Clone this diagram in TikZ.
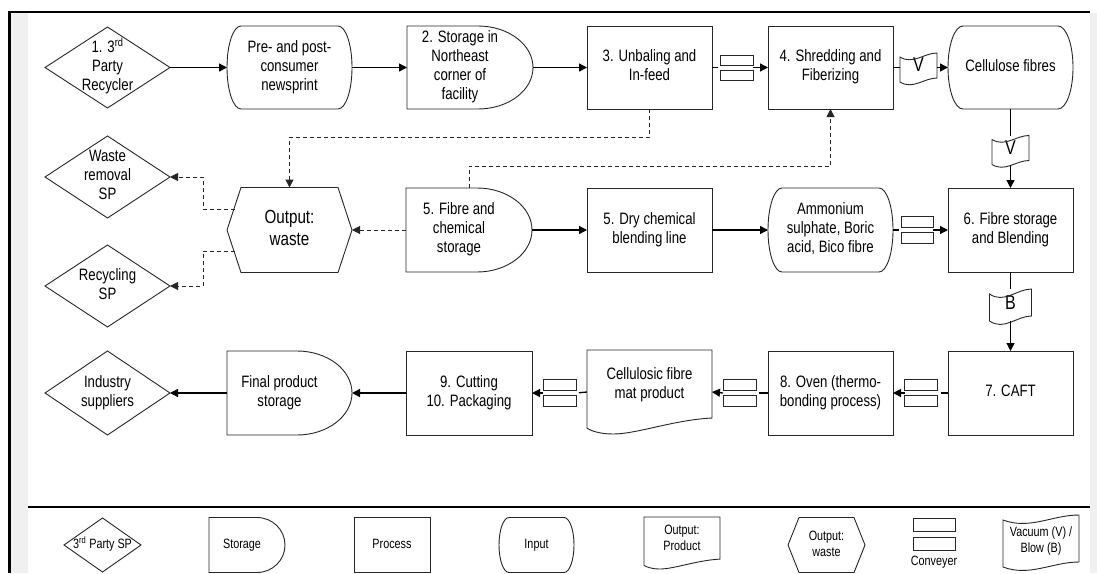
\documentclass[tikz,border=0pt]{standalone}
\usepackage{fontspec}
\setmainfont{Liberation Sans}[FakeStretch=0.8]
\usetikzlibrary{arrows.meta}
\newcommand\Ql[1]{\begin{tabular}{@{}c@{}}#1\end{tabular}}
\def\Qfont{\fontsize{16.5}{19}\selectfont}
\newcommand\Qbox[4]{%
 \pgfmathsetmacro\Qxl{#1-#3/2}\pgfmathsetmacro\Qxr{#1+#3/2}%
 \pgfmathsetmacro\Qyt{#2-#4/2}\pgfmathsetmacro\Qyb{#2+#4/2}}
% storage: name cx cy w h a hspace text
\newcommand\QD[8]{%
 \node[txt,minimum width=#4pt,minimum height=#5pt] (#1) at (#2,#3) {\Ql{#8}\hspace*{#7pt}};
 \Qbox{#2}{#3}{#4}{#5}%
 \pgfmathsetmacro\Qxs{\Qxr-#6}\pgfmathsetmacro\Qxc{\Qxs+0.5523*#6}\pgfmathsetmacro\Qkh{0.5523*#5/2}%
 \draw[outl] (\Qxs,\Qyt) -- (\Qxl,\Qyt) -- (\Qxl,\Qyb) -- (\Qxs,\Qyb) .. controls (\Qxc,\Qyb) and (\Qxr,#3+\Qkh) .. (\Qxr,#3) .. controls (\Qxr,#3-\Qkh) and (\Qxc,\Qyt) .. (\Qxs,\Qyt) -- cycle;}
% input: name cx cy w h d text
\newcommand\QI[7]{%
 \node[txt,minimum width=#4pt,minimum height=#5pt] (#1) at (#2,#3) {\Ql{#7}};
 \Qbox{#2}{#3}{#4}{#5}%
 \pgfmathsetmacro\Qkd{0.5523*#6}\pgfmathsetmacro\Qkh{0.5523*#5/2}%
 \draw[outl] (\Qxl+#6,\Qyt) -- (\Qxr-#6,\Qyt) .. controls (\Qxr-#6+\Qkd,\Qyt) and (\Qxr,#3-\Qkh) .. (\Qxr,#3) .. controls (\Qxr,#3+\Qkh) and (\Qxr-#6+\Qkd,\Qyb) .. (\Qxr-#6,\Qyb) -- (\Qxl+#6,\Qyb) .. controls (\Qxl+#6-\Qkd,\Qyb) and (\Qxl,#3+\Qkh) .. (\Qxl,#3) .. controls (\Qxl,#3-\Qkh) and (\Qxl+#6-\Qkd,\Qyt) .. (\Qxl+#6,\Qyt) -- cycle;}
% rhombus: name cx cy w h text
\newcommand\QR[6]{%
 \node[txt,minimum width=#4pt,minimum height=#5pt] (#1) at (#2,#3) {\Ql{#6}};
 \draw[outl] (#1.west) -- (#1.north) -- (#1.east) -- (#1.south) -- cycle;}
% hexagon: name cx cy w h d text
\newcommand\QH[7]{%
 \node[txt,minimum width=#4pt,minimum height=#5pt] (#1) at (#2,#3) {\Ql{#7}};
 \draw[outl] ([xshift=#6pt]#1.north west) -- ([xshift=-#6pt]#1.north east) -- (#1.east) -- ([xshift=-#6pt]#1.south east) -- ([xshift=#6pt]#1.south west) -- (#1.west) -- cycle;}
% document: name cx cy w h raise text
\newcommand\QP[7]{%
 \node[txt,minimum width=#4pt,minimum height=#5pt] (#1) at (#2,#3) {\raisebox{#6pt}[\height][\depth]{\Ql{#7}}};
 \Qbox{#2}{#3}{#4}{#5}%
 \draw[outl] (\Qxl,\Qyt) -- (\Qxr,\Qyt) -- (\Qxr,\Qyt+0.81*#5) .. controls (\Qxl+0.7*#4,\Qyt+0.83*#5) and (\Qxl+0.4*#4,\Qyb) .. (\Qxl+0.21*#4,\Qyb) .. controls (\Qxl+0.1*#4,\Qyb) and (\Qxl+0.03*#4,\Qyt+0.96*#5) .. (\Qxl,\Qyt+0.93*#5) -- cycle;}
% tape: name cx cy w h off text
\newcommand\QT[7]{%
 \pgfmathsetmacro\Qht{#5+#6}%
 \node[txt,minimum width=#4pt,minimum height=\Qht pt] (#1) at (#2,#3) {\Ql{#7}};
 \Qbox{#2}{#3}{#4}{\Qht}%
 \pgfmathsetmacro\QyL{\Qyt+#6}%
 \draw[outl] (\Qxl,\QyL) .. controls (\Qxl+0.35*#4,\QyL+2*#6) and (\Qxl+0.65*#4,\Qyt) .. (\Qxr,\Qyt) -- (\Qxr,\Qyt+#5) .. controls (\Qxl+0.65*#4,\Qyt+#5) and (\Qxl+0.35*#4,\QyL+#5+2*#6) .. (\Qxl,\QyL+#5) -- cycle;}
% conveyor: name cx cy w rh gap
\newcommand\QC[6]{%
 \pgfmathsetmacro\Qch{2*#5+#6}%
 \node[minimum width=#4pt,minimum height=\Qch pt,inner sep=0pt,outer sep=0pt] (#1) at (#2,#3) {};
 \draw[outl] (#2-#4/2,#3-#6/2-#5) rectangle (#2+#4/2,#3-#6/2);
 \draw[outl] (#2-#4/2,#3+#6/2) rectangle (#2+#4/2,#3+#6/2+#5);}
\begin{document}
\begin{tikzpicture}[x=1pt,y=-1pt,
  outl/.style={draw=black!85,line width=0.9pt},
  txt/.style={inner sep=0pt,outer sep=0pt,font=\Qfont},
  proc/.style={txt,outl,minimum width=125pt,minimum height=83pt},
  conn/.style={line width=1.3pt,draw=black},
  arr/.style={conn,-{Triangle[length=8pt,width=8pt]}},
  darr/.style={line width=1pt,draw=black!85,dash pattern=on 4pt off 3pt,-{Triangle[length=8pt,width=8pt]}}]
\useasboundingbox (0,0) rectangle (1097,573);
\fill[white] (0,0) rectangle (1097,573);
% frame
\fill[black!6] (11,12.5) rectangle (28,573);
\fill[black!6] (1090,12.5) rectangle (1097,573);
\draw[line width=1.6pt] (8,11.8) -- (1090,11.8);
\draw[line width=2.8pt] (9.6,10.8) -- (9.6,573);
\draw[line width=1.1pt] (28,507) -- (1090,507);

% ---------- row 1
\QR{d1}{107.5}{67.5}{125}{81}{1. 3\textsuperscript{rd}\\Party\\Recycler}
\QI{in1}{289.5}{67.5}{125}{83}{14}{Pre- and post-\\consumer\\newsprint}
\QD{st2}{470}{67.5}{126}{83}{55}{20}{2. Storage in\\Northeast\\corner of\\facility}
\node[proc] (p3) at (649.5,67.5) {\Ql{3. Unbaling and\\In-feed}};
\QC{cv1}{736.5}{67.5}{33}{10}{5}
\node[proc] (p4) at (830.5,67.5) {\Ql{4. Shredding and\\Fiberizing}};
{\def\Qfont{\fontsize{20}{22}\selectfont}\QT{tV1}{918.5}{67.5}{37}{25}{4}{V}}
\QI{in2}{1010.5}{67.5}{125}{83}{15}{Cellulose fibres}
{\def\Qfont{\fontsize{20}{22}\selectfont}\QT{tV2}{1010.5}{150}{37}{25}{4}{V}}

% ---------- row 2
\QR{dW}{107.5}{177}{125}{82}{Waste\\removal\\SP}
\QR{dR}{107.5}{286}{125}{82}{Recycling\\SP}
{\def\Qfont{\fontsize{19}{22}\selectfont}\QH{hx}{289.5}{230}{125}{85}{14}{Output:\\waste}}
\QD{st5}{469}{230}{126}{84}{55}{20}{5. Fibre and\\chemical\\storage}
\node[proc,minimum height=84pt] (p5) at (649.5,230) {\Ql{5. Dry chemical\\blending line}};
\QI{in3}{830.5}{230}{125}{84}{14}{Ammonium\\sulphate, Boric\\acid, Bico fibre}
\QC{cv2}{917}{230}{32}{11}{5}
\node[proc,minimum height=84pt] (p6) at (1010.5,230) {\Ql{6. Fibre storage\\and Blending}};
{\def\Qfont{\fontsize{20}{22}\selectfont}\QT{tB}{1010.5}{305}{42}{27}{5}{B}}

% ---------- row 3
\QR{dI}{107.5}{393}{125}{84}{Industry\\suppliers}
\QD{st9}{289.5}{393}{125}{84}{55}{20}{Final product\\storage}
\node[proc,minimum width=126pt,minimum height=84pt] (p9) at (469,393) {\Ql{9. Cutting\\10. Packaging}};
\QC{cv3}{559.5}{393}{33}{11}{5}
\QP{doc}{649.5}{392}{125}{84}{7}{Cellulosic fibre\\mat product}
\QC{cv4}{739.5}{393}{33}{11}{5}
\node[proc,minimum height=84pt] (p8) at (830.5,393) {\Ql{8. Oven (thermo-\\bonding process)}};
\QC{cv5}{921}{393}{33}{11}{5}
\node[proc,minimum height=84pt] (p7) at (1010.5,393) {\Ql{7. CAFT}};

% ---------- solid connectors
\draw[arr] (d1.east) -- (in1.west);
\draw[arr] (in1.east) -- (st2.west);
\draw[arr] (st2.east) -- (p3.west);
\draw[conn,shorten >=2pt] (p3.east) -- (cv1.west);
\draw[arr] (cv1.east) -- (p4.west);
\draw[conn] (p4.east) -- (tV1.west);
\draw[arr] (tV1.east) -- (in2.west);
\draw[conn] (in2.south) -- (tV2.north);
\draw[arr] (tV2.south) -- (p6.north);
\draw[arr] (st5.east) -- (p5.west);
\draw[arr] (p5.east) -- (in3.west);
\draw[conn,shorten >=2pt] (in3.east) -- (cv2.west);
\draw[arr] (cv2.east) -- (p6.west);
\draw[conn] (p6.south) -- (tB.north);
\draw[arr] (tB.south) -- (p7.north);
\draw[conn,shorten >=3pt] (p7.west) -- (cv5.east);
\draw[arr] (cv5.west) -- (p8.east);
\draw[conn,shorten >=3pt] (p8.west) -- (cv4.east);
\draw[arr] (cv4.west) -- (doc.east);
\draw[conn,shorten >=3pt] (doc.west) -- (cv3.east);
\draw[arr] (cv3.west) -- (p9.east);
\draw[arr] (p9.west) -- (st9.east);
\draw[arr] (st9.west) -- (dI.east);

% ---------- dashed connectors
\draw[darr] (p3.south) -- ++(0,28) -| (hx.north);
\draw[darr] (st5.north) -- ++(0,-22) -| (p4.south);
\draw[darr] (st5.west) -- (hx.east);
\coordinate (hxa) at (235,209);
\coordinate (hxb) at (235,251);
\draw[darr] (hxa) -- (203,209) |- (dW.east);
\draw[darr] (hxb) -- (203,251) |- (dR.east);

% ---------- legend
\def\Qfont{\fontsize{13.5}{16}\selectfont}
\QR{L1}{102.5}{545}{77}{54}{3\textsuperscript{rd} Party SP}
\QD{L2}{247}{545}{76}{55}{28}{10}{Storage}
\node[txt,outl,minimum width=76pt,minimum height=55pt] (L3) at (392,545) {\Ql{Process}};
\QI{L4}{536.5}{545}{75}{55}{10}{Input}
\QP{L5}{682}{543}{76}{52}{4}{Output:\\Product}
\QH{L6}{826.5}{545}{77}{55}{11}{Output:\\waste}
\QC{L7}{934}{534}{42}{13}{6}
\node[txt] (L7t) at (934,562) {Conveyer};
\QT{L8}{1041}{541}{76}{47}{5}{Vacuum (V) /\\Blow (B)}
\end{tikzpicture}
\end{document}
